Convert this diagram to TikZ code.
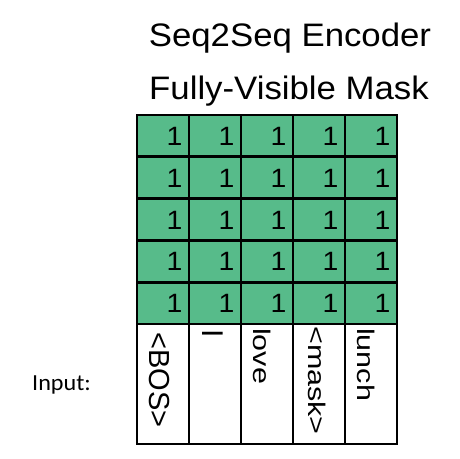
\documentclass[tikz,border=0pt]{standalone}
\usepackage{fontspec}
\newfontfamily\widesans[FakeStretch=1.27]{Liberation Sans}
\newfontfamily\headsans[FakeStretch=1.07]{Liberation Sans}
\newfontfamily\plainsans{Liberation Sans}
\newfontfamily\inputfont[FakeStretch=1.05]{Carlito}
\definecolor{maskgreen}{RGB}{87,187,138}

\begin{document}
\begin{tikzpicture}[x=1pt,y=-1pt,
  cell/.style={draw,line width=2.8pt,minimum width=52pt,minimum height=41.8pt,inner sep=0pt,outer sep=0pt,anchor=north west},
  one/.style={anchor=base east,inner sep=0pt,font=\headsans\fontsize{26.5}{26.5}\selectfont},
  word/.style={rotate=-90,anchor=base west,inner sep=0pt}]
\useasboundingbox (0,0) rectangle (460,458);

\node[inner sep=0pt,anchor=base,font=\headsans\fontsize{32.5}{32.5}\selectfont] (title1) at (290,46) {Seq2Seq Encoder};
\node[inner sep=0pt,anchor=base,font=\headsans\fontsize{32.5}{32.5}\selectfont] (title2) at (289,99) {Fully-Visible Mask};

% mask matrix
\foreach \r in {1,...,5}
  \foreach \c in {1,...,5}{
    \node[cell,fill=maskgreen] (m\r\c) at ({137+52*(\c-1)},{115+41.8*(\r-1)}) {};
    \node[one] (v\r\c) at ({137+52*\c-6.5},{145.5+41.8*(\r-1)}) {1};
  }

% input tokens
\foreach \c in {1,...,5}
  \node[cell,minimum height=120pt] (w\c) at ({137+52*(\c-1)},324) {};

\node[word,font=\plainsans\fontsize{29}{29}\selectfont] (t1) at (149,332) {<BOS>};
\node[word,font=\plainsans\fontsize{30}{30}\selectfont] (t2) at (202,329) {I};
\node[word,font=\widesans\fontsize{24}{24}\selectfont] (t3) at (253,328) {love};
\node[word,font=\widesans\fontsize{24}{24}\selectfont] (t4) at (308,326) {<mask>};
\node[word,font=\widesans\fontsize{24}{24}\selectfont] (t5) at (357,328) {lunch};

\node[anchor=base west,inner sep=0pt,font=\inputfont\fontsize{23}{23}\selectfont] (inp) at (32,390) {Input:};

\end{tikzpicture}
\end{document}
